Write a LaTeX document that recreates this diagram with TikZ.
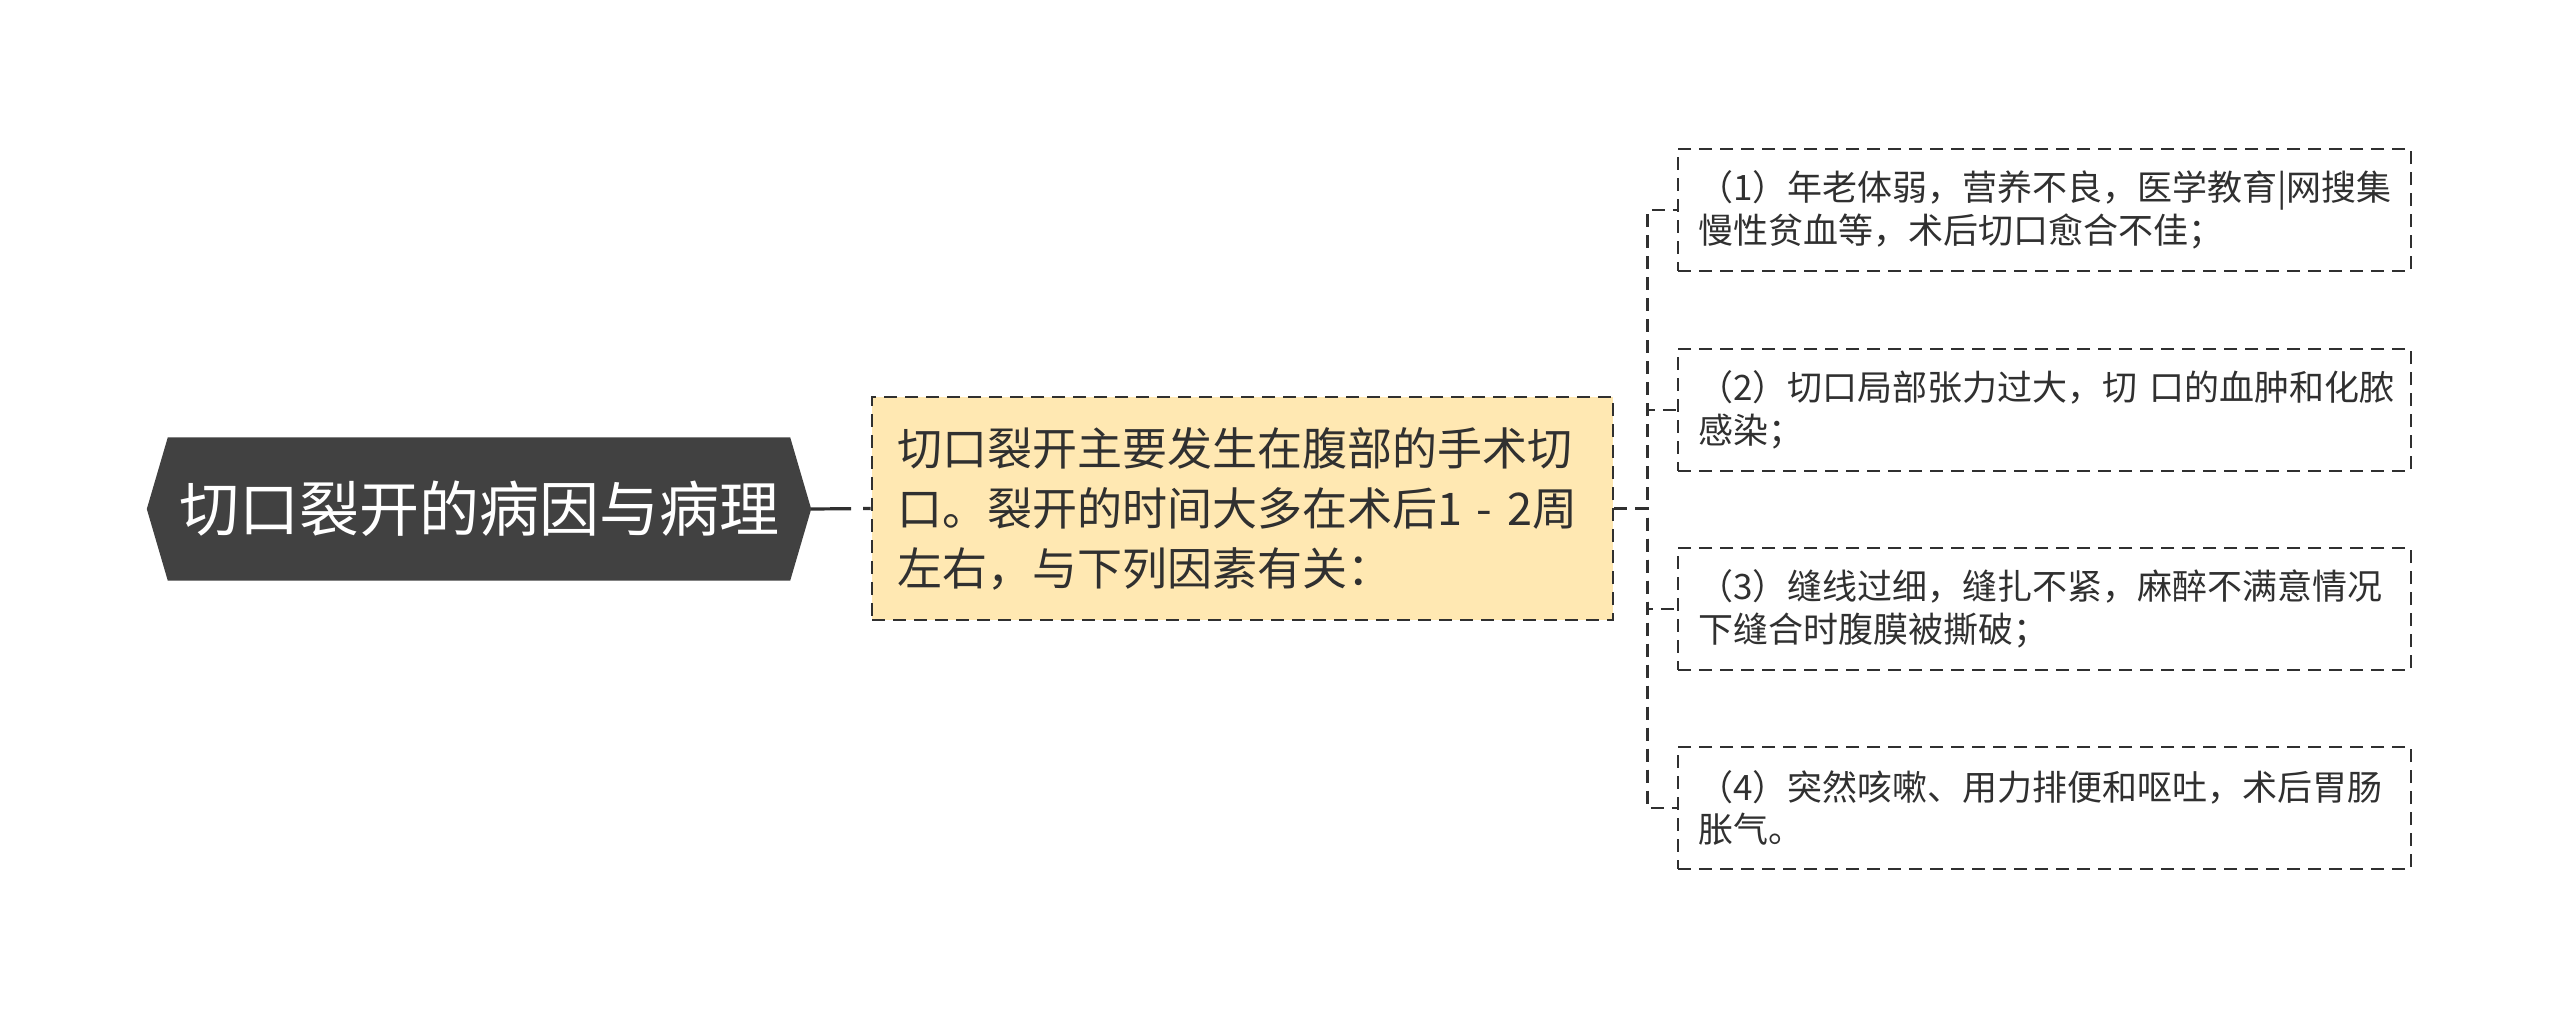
\documentclass[tikz,border=0pt]{standalone}
\usepackage{fontspec}
\setmainfont{Noto Sans CJK SC}
\usetikzlibrary{backgrounds}
\definecolor{rootfill}{HTML}{414141}
\definecolor{midfill}{HTML}{FFE8B2}
\definecolor{linecol}{HTML}{303030}
\definecolor{textcol}{HTML}{303030}
\tikzset{
  dashbox/.style={draw=linecol, line width=2.8pt, dash pattern=on 13pt off 8pt},
  rootnode/.style={text=white, inner sep=0pt, minimum width=664pt, minimum height=143pt,
    font=\fontsize{60}{72}\selectfont},
  midnode/.style={dashbox, fill=midfill, text=textcol, text width=691pt, inner xsep=25pt, inner ysep=0pt,
    minimum height=223pt, align=left, font=\fontsize{45}{60}\selectfont},
  leaf/.style={dashbox, fill=white, text=textcol, text width=693pt, inner xsep=20pt, inner ysep=0pt,
    minimum height=122pt, align=left, font=\fontsize{35}{42.5}\selectfont},
  conn/.style={draw=linecol, line width=2.8pt, dash pattern=on 13pt off 8pt},
  rootconn/.style={draw=linecol, line width=3.2pt, dash pattern=on 40pt off 12pt},
}
\begin{document}
\begin{tikzpicture}[x=1pt,y=-1pt]
\useasboundingbox (0,0) rectangle (2560,1021);
\node[rootnode] (root) at (479,509) {切口裂开的病因与病理};
\begin{scope}[on background layer]
\fill[rootfill] (root.west) -- ([xshift=21pt]root.north west) -- ([xshift=-21pt]root.north east)
  -- (root.east) -- ([xshift=-21pt]root.south east) -- ([xshift=21pt]root.south west) -- cycle;
\end{scope}
\node[midnode] (mid) at (1242.5,508.5) {切口裂开主要发生在腹部的手术切\\口。裂开的时间大多在术后1 - 2周\\左右，与下列因素有关：};
\node[leaf] (n1) at (2044.5,210) {（1）年老体弱，营养不良，医学教育|网搜集\\慢性贫血等，术后切口愈合不佳；};
\node[leaf] (n2) at (2044.5,410) {（2）切口局部张力过大，切~口的血肿和化脓\\感染；};
\node[leaf] (n3) at (2044.5,609) {（3）缝线过细，缝扎不紧，麻醉不满意情况\\下缝合时腹膜被撕破；};
\node[leaf] (n4) at (2044.5,808) {（4）突然咳嗽、用力排便和呕吐，术后胃肠\\胀气。};
\draw[rootconn] (root.east) -- (mid.west);
\coordinate (bus) at ([xshift=33pt]mid.east);
\foreach \n in {n1,n2,n3,n4}{
  \draw[conn] (mid.east) -- (bus) |- (\n.west);
}
\end{tikzpicture}
\end{document}
